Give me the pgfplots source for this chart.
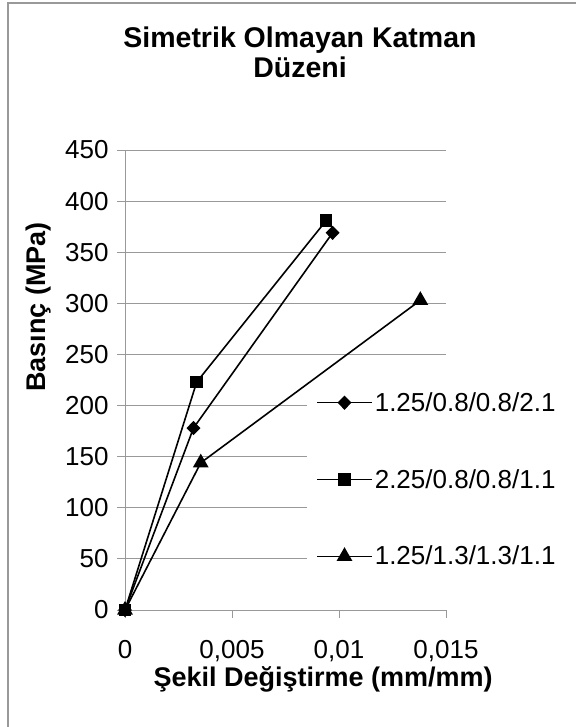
\documentclass[border=0pt]{standalone}
\usepackage{pgfplots}
\pgfplotsset{compat=1.18}
\usepackage{fontspec}
\setmainfont{Liberation Sans}
\begin{document}
\begin{tikzpicture}[x=1bp,y=1bp]
\path[use as bounding box] (0,0) rectangle (576,-727);
\draw[color=gray!80, line width=1.5bp] (8,-730) -- (8,-3) -- (580,-3);
\node[anchor=base, font=\fontsize{28.5bp}{30bp}\bfseries\selectfont] at (300,-48) {Simetrik Olmayan Katman};
\node[anchor=base, font=\fontsize{28.5bp}{30bp}\bfseries\selectfont] at (300,-78) {Düzeni};
\begin{axis}[
    at={(125bp,-610bp)}, anchor=south west,
    scale only axis,
    width=321bp, height=460bp,
    xmin=0, xmax=0.015, ymin=0, ymax=450,
    xtick={0,0.005,0.01,0.015},
    xticklabels={0,{0,005},{0,01},{0,015}},
    scaled x ticks=false,
    ytick={0,50,...,450},
    axis x line*=bottom, axis y line*=left,
    axis line style={gray!80, line width=1bp, -},
    ymajorgrids, grid style={gray!80, line width=1bp},
    tick align=outside, major tick length=8bp,
    tick style={gray!80, line width=1bp},
    /pgf/number format/assume math mode=true,
    ticklabel style={font=\fontsize{26bp}{28bp}\selectfont},
    xticklabel style={yshift=-19bp},
    yticklabel style={xshift=-5bp},
    xlabel={Şekil Değiştirme (mm/mm)},
    ylabel={Basınç (MPa)},
    label style={font=\fontsize{27bp}{29bp}\bfseries\selectfont},
    xlabel style={at={(axis description cs:0.617,-0.167)}, anchor=base},
    ylabel style={at={(axis description cs:-0.249,0.659)}, anchor=base, rotate=0},
    legend style={draw=none, fill=white, inner xsep=9bp, inner ysep=0pt,
        at={(axis description cs:0.567,0.4776)}, anchor=north west,
        font=\fontsize{26bp}{28bp}\selectfont,
        row sep=52.5bp, cells={anchor=west}},
    legend image code/.code={\draw[mark repeat=2,mark phase=2,#1] plot coordinates {(0bp,0bp)(27.5bp,0bp)(55bp,0bp)};},
    every axis plot/.append style={black, line width=1.6bp},
    clip=false,
]
\addplot[mark=diamond*, mark size=6bp, mark options={xscale=1.3}] coordinates {
    (0,0) (0.0032,178) (0.0097,369)
};
\addplot[mark=square*, mark size=5.5bp] coordinates {
    (0,0) (0.00335,223) (0.0094,381)
};
\addplot[mark=triangle*, mark size=7.5bp] coordinates {
    (0,0) (0.00354,144) (0.0138,303)
};
\legend{1.25/0.8/0.8/2.1, 2.25/0.8/0.8/1.1, 1.25/1.3/1.3/1.1}
\end{axis}
\end{tikzpicture}
\end{document}
